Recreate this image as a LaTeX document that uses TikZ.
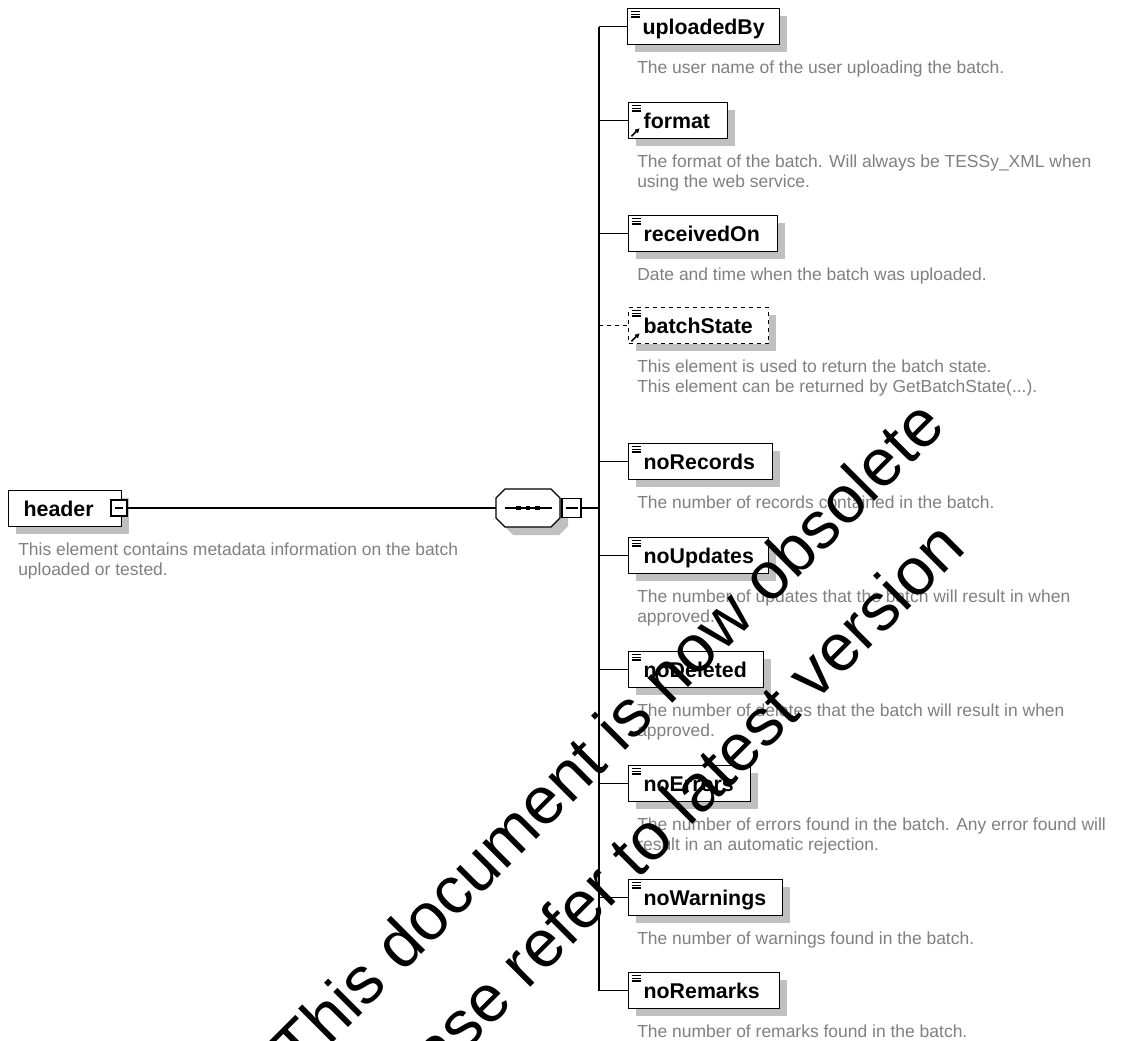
\documentclass[tikz,border=0pt]{standalone}
\usepackage{fontspec}
\setmainfont{Liberation Sans}
\usetikzlibrary{arrows.meta,shadows}
\definecolor{shadowgray}{RGB}{192,192,192}
\definecolor{descgray}{RGB}{128,128,128}
\tikzset{
  conn/.style={draw=black, line width=1pt},
  elem/.style={draw=black, line width=1pt, fill=white, rectangle, anchor=north west,
    inner xsep=11.25pt, inner ysep=0pt, text height=19.5pt, text depth=7.5pt, align=left,
    font=\fontsize{16pt}{19pt}\selectfont\bfseries,
    general shadow={fill=shadowgray, shadow xshift=5.25pt, shadow yshift=-5.25pt}},
  optelem/.style={elem, dashed},
  desc/.style={anchor=north west, inner sep=0pt, align=left, text=descgray,
    font=\fontsize{13.1pt}{15pt}\selectfont},
  minusbox/.style={draw=black, line width=1pt, fill=white, rectangle, inner sep=0pt},
  icon/.style={draw=black, line width=0.8pt},
  refarrow/.style={draw=black, line width=1.2pt, -{Triangle[length=3.5pt,width=3.5pt]}},
  wm/.style={inner sep=0pt, text=black, font=\fontsize{50pt}{60pt}\selectfont}
}
\newcommand{\octagonat}[2]{%
  ([shift={(-32+#2,-10+#2)}]#1.center) -- ([shift={(-23+#2,-19+#2)}]#1.center) --
  ([shift={(23+#2,-19+#2)}]#1.center) -- ([shift={(32+#2,-10+#2)}]#1.center) --
  ([shift={(32+#2,10+#2)}]#1.center) -- ([shift={(23+#2,19+#2)}]#1.center) --
  ([shift={(-23+#2,19+#2)}]#1.center) -- ([shift={(-32+#2,10+#2)}]#1.center) -- cycle}
\begin{document}
\begin{tikzpicture}[x=0.75pt, y=-0.75pt]
\path[use as bounding box, fill=white] (0,0) rectangle (1122,1041);
\clip (0,0) rectangle (1122,1041);

% root element
\node[elem, text width=62.25pt] (header) at (8,490) {header};
\node[minusbox, minimum size=12pt] (hminus) at (119,508) {};
\draw[conn] ([xshift=-3pt]hminus.center) -- ([xshift=3pt]hminus.center);
\node[desc] (headerdesc) at (18,542.3) {This element contains metadata information on the batch\\uploaded or tested.};

% sequence compositor
\node[rectangle, draw=none, minimum width=48pt, minimum height=28.5pt, inner sep=0pt] (seq) at (528,508) {};
\fill[shadowgray] \octagonat{seq}{8};
\draw[conn, fill=white] \octagonat{seq}{0};
\draw[conn] ([xshift=-17pt]seq.center) -- ([xshift=18pt]seq.center);
\foreach \dx in {-9.3,0,9.3} {
  \fill[black] ([shift={(\dx-2.3,-2.3)}]seq.center) rectangle ++(4.6,4.6);
}
\node[minusbox, minimum size=14.25pt] (seqminus) at (571.5,508) {};
\draw[conn] ([xshift=-4.5pt]seqminus.center) -- ([xshift=4.5pt]seqminus.center);

\coordinate (tk) at (599,508);
\draw[conn] (hminus.east) -- (seq.west);
\draw[conn] (seqminus.east) -- (tk);

% child elements
\node[elem, text width=91.5pt]  (uploadedBy) at (627,8)   {uploadedBy};
\node[elem, text width=51.75pt] (format)     at (628,102) {format};
\node[elem, text width=89.25pt] (receivedOn) at (628,215) {receivedOn};
\node[optelem, text width=82.5pt] (batchState) at (628,307) {batchState};
\node[elem, text width=85.5pt]  (noRecords)  at (628,443) {noRecords};
\node[elem, text width=82.5pt]  (noUpdates)  at (628,537) {noUpdates};
\node[elem, text width=78.75pt] (noDeleted)  at (628,651) {noDeleted};
\node[elem, text width=69pt]    (noErrors)   at (628,765) {noErrors};
\node[elem, text width=93pt]    (noWarnings) at (628,879) {noWarnings};
\node[elem, text width=90.75pt] (noRemarks)  at (628,972) {noRemarks};

% connectors
\draw[conn] (tk |- uploadedBy.west) -- (tk |- noRemarks.west);
\foreach \n in {uploadedBy,format,receivedOn,noRecords,noUpdates,noDeleted,noErrors,noWarnings,noRemarks} {
  \draw[conn] (tk |- \n.west) -- (\n.west);
}
\draw[conn, dashed] (tk |- batchState.west) -- (batchState.west);

% element icons
\foreach \n in {uploadedBy,format,receivedOn,batchState,noRecords,noUpdates,noDeleted,noErrors,noWarnings,noRemarks} {
  \foreach \dy in {3.6,6.3,9.0} {
    \draw[icon] ([shift={(3.5,\dy)}]\n.north west) -- ++(9,0);
  }
}
\draw[refarrow] ([shift={(3.5,-3)}]format.south west) -- ++(8,-8);
\draw[refarrow] ([shift={(3.5,-3)}]batchState.south west) -- ++(8,-8);

% descriptions
\node[desc] (d1) at (637,60.3) {The user name of the user uploading the batch.};
\node[desc] (d2) at (637,154.3) {The format of the batch. Will always be TESSy\_XML when\\using the web service.};
\node[desc] (d3) at (637,267.3) {Date and time when the batch was uploaded.};
\node[desc] (d4) at (637,359.3) {This element is used to return the batch state.\\This element can be returned by GetBatchState(...).};
\node[desc] (d5) at (637,495.3) {The number of records contained in the batch.};
\node[desc] (d6) at (637,589.3) {The number of updates that the batch will result in when\\approved.};
\node[desc] (d7) at (637,703.3) {The number of deletes that the batch will result in when\\approved.};
\node[desc] (d8) at (637,817.3) {The number of errors found in the batch. Any error found will\\result in an automatic rejection.};
\node[desc] (d9) at (637,931.3) {The number of warnings found in the batch.};
\node[desc] (d10) at (637,1024.3) {The number of remarks found in the batch.};

% watermark
\node[wm, rotate=45] (wm1) at (607,735) {This document is now obsolete};
\node[wm, rotate=45] (wm2) at (652,832) {Please refer to latest version};
\end{tikzpicture}
\end{document}
